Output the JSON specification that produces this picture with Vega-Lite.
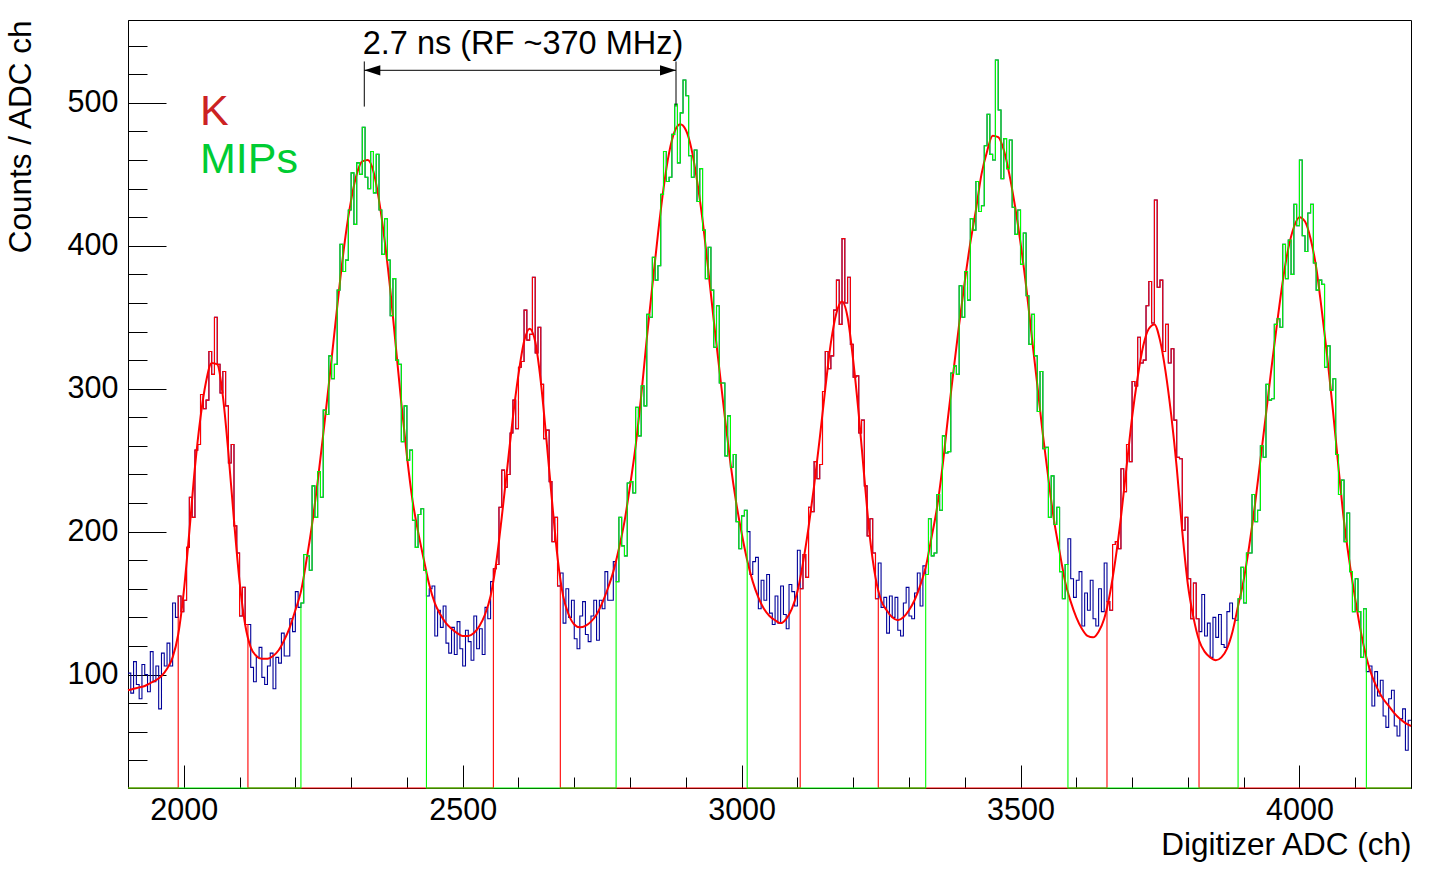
{
  "$schema": "https://vega.github.io/schema/vega-lite/v6.json",
  "width": 1283,
  "height": 768,
  "autosize": {"type": "none"},
  "padding": {"left": 128, "top": 20, "right": 18, "bottom": 85},
  "background": "white",
  "data": {"values": [{}]},
  "datasets": {
    "hist": [
      {"x":1900,"h":101,"k":0,"m":0},{"x":1905,"h":87,"k":0,"m":0},{"x":1910,"h":109,"k":0,"m":0},{"x":1915,"h":93,"k":0,"m":0},{"x":1920,"h":83,"k":0,"m":0},{"x":1925,"h":107,"k":0,"m":0},{"x":1930,"h":100,"k":0,"m":0},{"x":1935,"h":88,"k":0,"m":0},{"x":1940,"h":116,"k":0,"m":0},{"x":1945,"h":95,"k":0,"m":0},{"x":1950,"h":106,"k":0,"m":0},{"x":1955,"h":76,"k":0,"m":0},{"x":1960,"h":115,"k":0,"m":0},{"x":1965,"h":106,"k":0,"m":0},{"x":1970,"h":122,"k":0,"m":0},{"x":1975,"h":106,"k":0,"m":0},{"x":1980,"h":150,"k":0,"m":0},{"x":1985,"h":140,"k":0,"m":0},
      {"x":1990,"h":155,"k":155,"m":0},{"x":1995,"h":144,"k":144,"m":0},{"x":2000,"h":152,"k":152,"m":0},{"x":2005,"h":189,"k":189,"m":0},{"x":2010,"h":224,"k":224,"m":0},{"x":2015,"h":210,"k":210,"m":0},{"x":2020,"h":257,"k":257,"m":0},{"x":2025,"h":261,"k":261,"m":0},{"x":2030,"h":296,"k":296,"m":0},{"x":2035,"h":286,"k":286,"m":0},{"x":2040,"h":292,"k":292,"m":0},{"x":2045,"h":326,"k":326,"m":0},{"x":2050,"h":310,"k":310,"m":0},{"x":2055,"h":350,"k":350,"m":0},{"x":2060,"h":317,"k":317,"m":0},{"x":2065,"h":297,"k":297,"m":0},{"x":2070,"h":312,"k":312,"m":0},{"x":2075,"h":288,"k":288,"m":0},{"x":2080,"h":248,"k":248,"m":0},{"x":2085,"h":261,"k":261,"m":0},{"x":2090,"h":204,"k":204,"m":0},{"x":2095,"h":185,"k":185,"m":0},{"x":2100,"h":141,"k":141,"m":0},{"x":2105,"h":161,"k":161,"m":0},{"x":2110,"h":135,"k":135,"m":0},
      {"x":2115,"h":135,"k":0,"m":0},{"x":2120,"h":105,"k":0,"m":0},{"x":2125,"h":95,"k":0,"m":0},{"x":2130,"h":112,"k":0,"m":0},{"x":2135,"h":119,"k":0,"m":0},{"x":2140,"h":98,"k":0,"m":0},{"x":2145,"h":93,"k":0,"m":0},{"x":2150,"h":106,"k":0,"m":0},{"x":2155,"h":115,"k":0,"m":0},{"x":2160,"h":90,"k":0,"m":0},{"x":2165,"h":112,"k":0,"m":0},{"x":2170,"h":108,"k":0,"m":0},{"x":2175,"h":129,"k":0,"m":0},{"x":2180,"h":113,"k":0,"m":0},{"x":2185,"h":113,"k":0,"m":0},{"x":2190,"h":139,"k":0,"m":0},{"x":2195,"h":130,"k":0,"m":0},{"x":2200,"h":158,"k":0,"m":0},{"x":2205,"h":147,"k":0,"m":0},
      {"x":2210,"h":150,"k":0,"m":150},{"x":2215,"h":184,"k":0,"m":184},{"x":2220,"h":183,"k":0,"m":183},{"x":2225,"h":173,"k":0,"m":173},{"x":2230,"h":232,"k":0,"m":232},{"x":2235,"h":210,"k":0,"m":210},{"x":2240,"h":242,"k":0,"m":242},{"x":2245,"h":224,"k":0,"m":224},{"x":2250,"h":285,"k":0,"m":285},{"x":2255,"h":282,"k":0,"m":282},{"x":2260,"h":323,"k":0,"m":323},{"x":2265,"h":307,"k":0,"m":307},{"x":2270,"h":317,"k":0,"m":317},{"x":2275,"h":369,"k":0,"m":369},{"x":2280,"h":401,"k":0,"m":401},{"x":2285,"h":382,"k":0,"m":382},{"x":2290,"h":390,"k":0,"m":390},{"x":2295,"h":425,"k":0,"m":425},{"x":2300,"h":451,"k":0,"m":451},{"x":2305,"h":415,"k":0,"m":415},{"x":2310,"h":458,"k":0,"m":458},{"x":2315,"h":450,"k":0,"m":450},{"x":2320,"h":483,"k":0,"m":483},{"x":2325,"h":448,"k":0,"m":448},{"x":2330,"h":440,"k":0,"m":440},{"x":2335,"h":466,"k":0,"m":466},{"x":2340,"h":437,"k":0,"m":437},{"x":2345,"h":464,"k":0,"m":464},{"x":2350,"h":425,"k":0,"m":425},{"x":2355,"h":394,"k":0,"m":394},{"x":2360,"h":419,"k":0,"m":419},{"x":2365,"h":390,"k":0,"m":390},{"x":2370,"h":351,"k":0,"m":351},{"x":2375,"h":377,"k":0,"m":377},{"x":2380,"h":320,"k":0,"m":320},{"x":2385,"h":317,"k":0,"m":317},{"x":2390,"h":263,"k":0,"m":263},{"x":2395,"h":288,"k":0,"m":288},{"x":2400,"h":250,"k":0,"m":250},{"x":2405,"h":257,"k":0,"m":257},{"x":2410,"h":208,"k":0,"m":208},{"x":2415,"h":189,"k":0,"m":189},{"x":2420,"h":212,"k":0,"m":212},{"x":2425,"h":216,"k":0,"m":216},{"x":2430,"h":173,"k":0,"m":173},
      {"x":2435,"h":155,"k":0,"m":0},{"x":2440,"h":160,"k":0,"m":0},{"x":2445,"h":162,"k":0,"m":0},{"x":2450,"h":127,"k":0,"m":0},{"x":2455,"h":145,"k":0,"m":0},{"x":2460,"h":133,"k":0,"m":0},{"x":2465,"h":148,"k":0,"m":0},{"x":2470,"h":122,"k":0,"m":0},{"x":2475,"h":115,"k":0,"m":0},{"x":2480,"h":133,"k":0,"m":0},{"x":2485,"h":114,"k":0,"m":0},{"x":2490,"h":137,"k":0,"m":0},{"x":2495,"h":118,"k":0,"m":0},{"x":2500,"h":106,"k":0,"m":0},{"x":2505,"h":131,"k":0,"m":0},{"x":2510,"h":123,"k":0,"m":0},{"x":2515,"h":110,"k":0,"m":0},{"x":2520,"h":141,"k":0,"m":0},{"x":2525,"h":118,"k":0,"m":0},{"x":2530,"h":132,"k":0,"m":0},{"x":2535,"h":114,"k":0,"m":0},{"x":2540,"h":147,"k":0,"m":0},{"x":2545,"h":139,"k":0,"m":0},{"x":2550,"h":165,"k":0,"m":0},
      {"x":2555,"h":174,"k":174,"m":0},{"x":2560,"h":177,"k":177,"m":0},{"x":2565,"h":217,"k":217,"m":0},{"x":2570,"h":243,"k":243,"m":0},{"x":2575,"h":231,"k":231,"m":0},{"x":2580,"h":240,"k":240,"m":0},{"x":2585,"h":269,"k":269,"m":0},{"x":2590,"h":292,"k":292,"m":0},{"x":2595,"h":272,"k":272,"m":0},{"x":2600,"h":315,"k":315,"m":0},{"x":2605,"h":319,"k":319,"m":0},{"x":2610,"h":355,"k":355,"m":0},{"x":2615,"h":334,"k":334,"m":0},{"x":2620,"h":338,"k":338,"m":0},{"x":2625,"h":378,"k":378,"m":0},{"x":2630,"h":325,"k":325,"m":0},{"x":2635,"h":343,"k":343,"m":0},{"x":2640,"h":303,"k":303,"m":0},{"x":2645,"h":265,"k":265,"m":0},{"x":2650,"h":271,"k":271,"m":0},{"x":2655,"h":235,"k":235,"m":0},{"x":2660,"h":193,"k":193,"m":0},{"x":2665,"h":210,"k":210,"m":0},{"x":2670,"h":162,"k":162,"m":0},
      {"x":2675,"h":171,"k":0,"m":0},{"x":2680,"h":136,"k":0,"m":0},{"x":2685,"h":160,"k":0,"m":0},{"x":2690,"h":140,"k":0,"m":0},{"x":2695,"h":152,"k":0,"m":0},{"x":2700,"h":125,"k":0,"m":0},{"x":2705,"h":118,"k":0,"m":0},{"x":2710,"h":141,"k":0,"m":0},{"x":2715,"h":151,"k":0,"m":0},{"x":2720,"h":128,"k":0,"m":0},{"x":2725,"h":123,"k":0,"m":0},{"x":2730,"h":141,"k":0,"m":0},{"x":2735,"h":152,"k":0,"m":0},{"x":2740,"h":124,"k":0,"m":0},{"x":2745,"h":152,"k":0,"m":0},{"x":2750,"h":146,"k":0,"m":0},{"x":2755,"h":172,"k":0,"m":0},{"x":2760,"h":152,"k":0,"m":0},{"x":2765,"h":152,"k":0,"m":0},{"x":2770,"h":179,"k":0,"m":0},
      {"x":2775,"h":165,"k":0,"m":165},{"x":2780,"h":210,"k":0,"m":210},{"x":2785,"h":190,"k":0,"m":190},{"x":2790,"h":183,"k":0,"m":183},{"x":2795,"h":234,"k":0,"m":234},{"x":2800,"h":235,"k":0,"m":235},{"x":2805,"h":227,"k":0,"m":227},{"x":2810,"h":287,"k":0,"m":287},{"x":2815,"h":267,"k":0,"m":267},{"x":2820,"h":302,"k":0,"m":302},{"x":2825,"h":288,"k":0,"m":288},{"x":2830,"h":352,"k":0,"m":352},{"x":2835,"h":350,"k":0,"m":350},{"x":2840,"h":392,"k":0,"m":392},{"x":2845,"h":376,"k":0,"m":376},{"x":2850,"h":386,"k":0,"m":386},{"x":2855,"h":436,"k":0,"m":436},{"x":2860,"h":466,"k":0,"m":466},{"x":2865,"h":445,"k":0,"m":445},{"x":2870,"h":448,"k":0,"m":448},{"x":2875,"h":478,"k":0,"m":478},{"x":2880,"h":499,"k":0,"m":499},{"x":2885,"h":458,"k":0,"m":458},{"x":2890,"h":493,"k":0,"m":493},{"x":2895,"h":516,"k":0,"m":516},{"x":2900,"h":505,"k":0,"m":505},{"x":2905,"h":463,"k":0,"m":463},{"x":2910,"h":448,"k":0,"m":448},{"x":2915,"h":467,"k":0,"m":467},{"x":2920,"h":431,"k":0,"m":431},{"x":2925,"h":454,"k":0,"m":454},{"x":2930,"h":411,"k":0,"m":411},{"x":2935,"h":377,"k":0,"m":377},{"x":2940,"h":399,"k":0,"m":399},{"x":2945,"h":369,"k":0,"m":369},{"x":2950,"h":329,"k":0,"m":329},{"x":2955,"h":358,"k":0,"m":358},{"x":2960,"h":304,"k":0,"m":304},{"x":2965,"h":304,"k":0,"m":304},{"x":2970,"h":253,"k":0,"m":253},{"x":2975,"h":281,"k":0,"m":281},{"x":2980,"h":245,"k":0,"m":245},{"x":2985,"h":254,"k":0,"m":254},{"x":2990,"h":207,"k":0,"m":207},{"x":2995,"h":188,"k":0,"m":188},{"x":3000,"h":211,"k":0,"m":211},{"x":3005,"h":215,"k":0,"m":215},
      {"x":3010,"h":200,"k":0,"m":0},{"x":3015,"h":170,"k":0,"m":0},{"x":3020,"h":179,"k":0,"m":0},{"x":3025,"h":182,"k":0,"m":0},{"x":3030,"h":146,"k":0,"m":0},{"x":3035,"h":166,"k":0,"m":0},{"x":3040,"h":152,"k":0,"m":0},{"x":3045,"h":170,"k":0,"m":0},{"x":3050,"h":143,"k":0,"m":0},{"x":3055,"h":135,"k":0,"m":0},{"x":3060,"h":155,"k":0,"m":0},{"x":3065,"h":136,"k":0,"m":0},{"x":3070,"h":162,"k":0,"m":0},{"x":3075,"h":142,"k":0,"m":0},{"x":3080,"h":132,"k":0,"m":0},{"x":3085,"h":163,"k":0,"m":0},{"x":3090,"h":158,"k":0,"m":0},{"x":3095,"h":148,"k":0,"m":0},{"x":3100,"h":187,"k":0,"m":0},
      {"x":3105,"h":160,"k":160,"m":0},{"x":3110,"h":184,"k":184,"m":0},{"x":3115,"h":168,"k":168,"m":0},{"x":3120,"h":217,"k":217,"m":0},{"x":3125,"h":214,"k":214,"m":0},{"x":3130,"h":249,"k":249,"m":0},{"x":3135,"h":237,"k":237,"m":0},{"x":3140,"h":247,"k":247,"m":0},{"x":3145,"h":298,"k":298,"m":0},{"x":3150,"h":326,"k":326,"m":0},{"x":3155,"h":314,"k":314,"m":0},{"x":3160,"h":323,"k":323,"m":0},{"x":3165,"h":355,"k":355,"m":0},{"x":3170,"h":376,"k":376,"m":0},{"x":3175,"h":345,"k":345,"m":0},{"x":3180,"h":405,"k":405,"m":0},{"x":3185,"h":360,"k":360,"m":0},{"x":3190,"h":378,"k":378,"m":0},{"x":3195,"h":331,"k":331,"m":0},{"x":3200,"h":308,"k":308,"m":0},{"x":3205,"h":309,"k":309,"m":0},{"x":3210,"h":269,"k":269,"m":0},{"x":3215,"h":278,"k":278,"m":0},{"x":3220,"h":232,"k":232,"m":0},{"x":3225,"h":197,"k":197,"m":0},{"x":3230,"h":209,"k":209,"m":0},{"x":3235,"h":185,"k":185,"m":0},{"x":3240,"h":153,"k":153,"m":0},
      {"x":3245,"h":178,"k":0,"m":0},{"x":3250,"h":147,"k":0,"m":0},{"x":3255,"h":154,"k":0,"m":0},{"x":3260,"h":129,"k":0,"m":0},{"x":3265,"h":155,"k":0,"m":0},{"x":3270,"h":140,"k":0,"m":0},{"x":3275,"h":154,"k":0,"m":0},{"x":3280,"h":131,"k":0,"m":0},{"x":3285,"h":127,"k":0,"m":0},{"x":3290,"h":150,"k":0,"m":0},{"x":3295,"h":161,"k":0,"m":0},{"x":3300,"h":141,"k":0,"m":0},{"x":3305,"h":139,"k":0,"m":0},{"x":3310,"h":157,"k":0,"m":0},{"x":3315,"h":171,"k":0,"m":0},{"x":3320,"h":148,"k":0,"m":0},{"x":3325,"h":176,"k":0,"m":0},
      {"x":3330,"h":170,"k":0,"m":170},{"x":3335,"h":209,"k":0,"m":209},{"x":3340,"h":183,"k":0,"m":183},{"x":3345,"h":185,"k":0,"m":185},{"x":3350,"h":226,"k":0,"m":226},{"x":3355,"h":215,"k":0,"m":215},{"x":3360,"h":267,"k":0,"m":267},{"x":3365,"h":255,"k":0,"m":255},{"x":3370,"h":256,"k":0,"m":256},{"x":3375,"h":311,"k":0,"m":311},{"x":3380,"h":316,"k":0,"m":316},{"x":3385,"h":310,"k":0,"m":310},{"x":3390,"h":372,"k":0,"m":372},{"x":3395,"h":350,"k":0,"m":350},{"x":3400,"h":382,"k":0,"m":382},{"x":3405,"h":362,"k":0,"m":362},{"x":3410,"h":419,"k":0,"m":419},{"x":3415,"h":411,"k":0,"m":411},{"x":3420,"h":445,"k":0,"m":445},{"x":3425,"h":424,"k":0,"m":424},{"x":3430,"h":428,"k":0,"m":428},{"x":3435,"h":470,"k":0,"m":470},{"x":3440,"h":492,"k":0,"m":492},{"x":3445,"h":464,"k":0,"m":464},{"x":3450,"h":460,"k":0,"m":460},{"x":3455,"h":530,"k":0,"m":530},{"x":3460,"h":495,"k":0,"m":495},{"x":3465,"h":447,"k":0,"m":447},{"x":3470,"h":475,"k":0,"m":475},{"x":3475,"h":454,"k":0,"m":454},{"x":3480,"h":474,"k":0,"m":474},{"x":3485,"h":427,"k":0,"m":427},{"x":3490,"h":408,"k":0,"m":408},{"x":3495,"h":425,"k":0,"m":425},{"x":3500,"h":387,"k":0,"m":387},{"x":3505,"h":409,"k":0,"m":409},{"x":3510,"h":365,"k":0,"m":365},{"x":3515,"h":331,"k":0,"m":331},{"x":3520,"h":352,"k":0,"m":352},{"x":3525,"h":323,"k":0,"m":323},{"x":3530,"h":284,"k":0,"m":284},{"x":3535,"h":312,"k":0,"m":312},{"x":3540,"h":258,"k":0,"m":258},{"x":3545,"h":259,"k":0,"m":259},{"x":3550,"h":210,"k":0,"m":210},{"x":3555,"h":239,"k":0,"m":239},{"x":3560,"h":205,"k":0,"m":205},{"x":3565,"h":217,"k":0,"m":217},{"x":3570,"h":172,"k":0,"m":172},{"x":3575,"h":153,"k":0,"m":153},{"x":3580,"h":177,"k":0,"m":177},
      {"x":3585,"h":195,"k":0,"m":0},{"x":3590,"h":167,"k":0,"m":0},{"x":3595,"h":154,"k":0,"m":0},{"x":3600,"h":166,"k":0,"m":0},{"x":3605,"h":172,"k":0,"m":0},{"x":3610,"h":134,"k":0,"m":0},{"x":3615,"h":157,"k":0,"m":0},{"x":3620,"h":145,"k":0,"m":0},{"x":3625,"h":166,"k":0,"m":0},{"x":3630,"h":139,"k":0,"m":0},{"x":3635,"h":134,"k":0,"m":0},{"x":3640,"h":160,"k":0,"m":0},{"x":3645,"h":144,"k":0,"m":0},{"x":3650,"h":178,"k":0,"m":0},
      {"x":3655,"h":151,"k":151,"m":0},{"x":3660,"h":145,"k":145,"m":0},{"x":3665,"h":191,"k":191,"m":0},{"x":3670,"h":193,"k":193,"m":0},{"x":3675,"h":188,"k":188,"m":0},{"x":3680,"h":244,"k":244,"m":0},{"x":3685,"h":228,"k":228,"m":0},{"x":3690,"h":261,"k":261,"m":0},{"x":3695,"h":249,"k":249,"m":0},{"x":3700,"h":305,"k":305,"m":0},{"x":3705,"h":302,"k":302,"m":0},{"x":3710,"h":336,"k":336,"m":0},{"x":3715,"h":318,"k":318,"m":0},{"x":3720,"h":320,"k":320,"m":0},{"x":3725,"h":358,"k":358,"m":0},{"x":3730,"h":375,"k":375,"m":0},{"x":3735,"h":346,"k":346,"m":0},{"x":3740,"h":432,"k":432,"m":0},{"x":3745,"h":371,"k":371,"m":0},{"x":3750,"h":376,"k":376,"m":0},{"x":3755,"h":326,"k":326,"m":0},{"x":3760,"h":345,"k":345,"m":0},{"x":3765,"h":318,"k":318,"m":0},{"x":3770,"h":328,"k":328,"m":0},{"x":3775,"h":278,"k":278,"m":0},{"x":3780,"h":252,"k":252,"m":0},{"x":3785,"h":251,"k":251,"m":0},{"x":3790,"h":201,"k":201,"m":0},{"x":3795,"h":210,"k":210,"m":0},{"x":3800,"h":167,"k":167,"m":0},{"x":3805,"h":139,"k":139,"m":0},{"x":3810,"h":164,"k":164,"m":0},{"x":3815,"h":139,"k":139,"m":0},
      {"x":3820,"h":130,"k":0,"m":0},{"x":3825,"h":156,"k":0,"m":0},{"x":3830,"h":127,"k":0,"m":0},{"x":3835,"h":136,"k":0,"m":0},{"x":3840,"h":112,"k":0,"m":0},{"x":3845,"h":140,"k":0,"m":0},{"x":3850,"h":126,"k":0,"m":0},{"x":3855,"h":142,"k":0,"m":0},{"x":3860,"h":121,"k":0,"m":0},{"x":3865,"h":119,"k":0,"m":0},{"x":3870,"h":144,"k":0,"m":0},{"x":3875,"h":150,"k":0,"m":0},{"x":3880,"h":139,"k":0,"m":0},{"x":3885,"h":138,"k":0,"m":0},
      {"x":3890,"h":153,"k":0,"m":153},{"x":3895,"h":175,"k":0,"m":175},{"x":3900,"h":150,"k":0,"m":150},{"x":3905,"h":185,"k":0,"m":185},{"x":3910,"h":185,"k":0,"m":185},{"x":3915,"h":226,"k":0,"m":226},{"x":3920,"h":207,"k":0,"m":207},{"x":3925,"h":215,"k":0,"m":215},{"x":3930,"h":260,"k":0,"m":260},{"x":3935,"h":252,"k":0,"m":252},{"x":3940,"h":303,"k":0,"m":303},{"x":3945,"h":292,"k":0,"m":292},{"x":3950,"h":293,"k":0,"m":293},{"x":3955,"h":345,"k":0,"m":345},{"x":3960,"h":349,"k":0,"m":349},{"x":3965,"h":343,"k":0,"m":343},{"x":3970,"h":401,"k":0,"m":401},{"x":3975,"h":377,"k":0,"m":377},{"x":3980,"h":404,"k":0,"m":404},{"x":3985,"h":380,"k":0,"m":380},{"x":3990,"h":429,"k":0,"m":429},{"x":3995,"h":414,"k":0,"m":414},{"x":4000,"h":460,"k":0,"m":460},{"x":4005,"h":407,"k":0,"m":407},{"x":4010,"h":396,"k":0,"m":396},{"x":4015,"h":423,"k":0,"m":423},{"x":4020,"h":429,"k":0,"m":429},{"x":4025,"h":388,"k":0,"m":388},{"x":4030,"h":369,"k":0,"m":369},{"x":4035,"h":376,"k":0,"m":376},{"x":4040,"h":373,"k":0,"m":373},{"x":4045,"h":315,"k":0,"m":315},{"x":4050,"h":330,"k":0,"m":330},{"x":4055,"h":299,"k":0,"m":299},{"x":4060,"h":307,"k":0,"m":307},{"x":4065,"h":254,"k":0,"m":254},{"x":4070,"h":226,"k":0,"m":226},{"x":4075,"h":236,"k":0,"m":236},{"x":4080,"h":193,"k":0,"m":193},{"x":4085,"h":213,"k":0,"m":213},{"x":4090,"h":172,"k":0,"m":172},{"x":4095,"h":144,"k":0,"m":144},{"x":4100,"h":167,"k":0,"m":167},{"x":4105,"h":144,"k":0,"m":144},{"x":4110,"h":112,"k":0,"m":112},{"x":4115,"h":146,"k":0,"m":146},
      {"x":4120,"h":102,"k":0,"m":0},{"x":4125,"h":106,"k":0,"m":0},{"x":4130,"h":78,"k":0,"m":0},{"x":4135,"h":102,"k":0,"m":0},{"x":4140,"h":85,"k":0,"m":0},{"x":4145,"h":96,"k":0,"m":0},{"x":4150,"h":71,"k":0,"m":0},{"x":4155,"h":63,"k":0,"m":0},{"x":4160,"h":83,"k":0,"m":0},{"x":4165,"h":89,"k":0,"m":0},{"x":4170,"h":64,"k":0,"m":0},{"x":4175,"h":57,"k":0,"m":0},{"x":4180,"h":69,"k":0,"m":0},{"x":4185,"h":76,"k":0,"m":0},{"x":4190,"h":47,"k":0,"m":0},{"x":4195,"h":68,"k":0,"m":0},{"x":4200,"h":68,"k":0,"m":0}
    ],
    "fit": [
      {"x":1900,"f":89},{"x":1910,"f":90},{"x":1920,"f":91},{"x":1930,"f":92},{"x":1940,"f":94},{"x":1950,"f":96},{"x":1960,"f":99},{"x":1970,"f":104},{"x":1980,"f":112},{"x":1990,"f":128},{"x":2000,"f":158},{"x":2010,"f":200},{"x":2020,"f":245},{"x":2030,"f":280},{"x":2040,"f":305},{"x":2050,"f":318},{"x":2060,"f":317},{"x":2070,"f":295},{"x":2080,"f":255},{"x":2090,"f":208},{"x":2100,"f":165},{"x":2110,"f":135},{"x":2120,"f":119},{"x":2130,"f":113},{"x":2140,"f":111},{"x":2150,"f":111},{"x":2160,"f":113},{"x":2170,"f":117},{"x":2180,"f":124},{"x":2190,"f":133},{"x":2200,"f":145},
      {"x":2210,"f":158},{"x":2220,"f":180},{"x":2230,"f":205},{"x":2240,"f":235},{"x":2250,"f":268},{"x":2260,"f":303},{"x":2270,"f":339},{"x":2280,"f":375},{"x":2290,"f":407},{"x":2300,"f":432},{"x":2310,"f":450},{"x":2320,"f":459},{"x":2330,"f":460},{"x":2340,"f":452},{"x":2350,"f":432},{"x":2360,"f":404},{"x":2370,"f":370},{"x":2380,"f":330},{"x":2390,"f":290},{"x":2400,"f":253},{"x":2410,"f":222},{"x":2420,"f":200},{"x":2430,"f":181},{"x":2440,"f":163},{"x":2450,"f":150},{"x":2460,"f":142},{"x":2470,"f":136},{"x":2480,"f":132},{"x":2490,"f":129},{"x":2500,"f":127},
      {"x":2510,"f":127},{"x":2520,"f":129},{"x":2530,"f":134},{"x":2540,"f":142},{"x":2550,"f":155},{"x":2560,"f":178},{"x":2570,"f":210},{"x":2580,"f":245},{"x":2590,"f":280},{"x":2600,"f":310},{"x":2610,"f":333},{"x":2620,"f":342},{"x":2630,"f":333},{"x":2640,"f":305},{"x":2650,"f":265},{"x":2660,"f":222},{"x":2670,"f":182},{"x":2680,"f":155},{"x":2690,"f":142},{"x":2700,"f":135},{"x":2710,"f":133},{"x":2720,"f":134},{"x":2730,"f":137},{"x":2740,"f":142},{"x":2750,"f":150},{"x":2760,"f":160},{"x":2770,"f":172},{"x":2780,"f":188},{"x":2790,"f":207},{"x":2800,"f":232},
      {"x":2810,"f":260},{"x":2820,"f":295},{"x":2830,"f":335},{"x":2840,"f":372},{"x":2850,"f":408},{"x":2860,"f":440},{"x":2870,"f":465},{"x":2880,"f":480},{"x":2890,"f":485},{"x":2900,"f":481},{"x":2910,"f":468},{"x":2920,"f":446},{"x":2930,"f":418},{"x":2940,"f":384},{"x":2950,"f":348},{"x":2960,"f":314},{"x":2970,"f":280},{"x":2980,"f":248},{"x":2990,"f":221},{"x":3000,"f":199},{"x":3010,"f":180},{"x":3020,"f":165},{"x":3030,"f":154},{"x":3040,"f":146},{"x":3050,"f":141},{"x":3060,"f":138},{"x":3070,"f":136},{"x":3080,"f":139},{"x":3090,"f":146},{"x":3100,"f":158},
      {"x":3110,"f":178},{"x":3120,"f":203},{"x":3130,"f":232},{"x":3140,"f":265},{"x":3150,"f":300},{"x":3160,"f":332},{"x":3170,"f":353},{"x":3180,"f":361},{"x":3190,"f":350},{"x":3200,"f":320},{"x":3210,"f":282},{"x":3220,"f":238},{"x":3230,"f":196},{"x":3240,"f":168},{"x":3250,"f":152},{"x":3260,"f":145},{"x":3270,"f":140},{"x":3280,"f":138},{"x":3290,"f":140},{"x":3300,"f":145},{"x":3310,"f":152},{"x":3320,"f":162},{"x":3330,"f":175},{"x":3340,"f":195},{"x":3350,"f":216},{"x":3360,"f":245},{"x":3370,"f":280},{"x":3380,"f":313},{"x":3390,"f":345},{"x":3400,"f":375},
      {"x":3410,"f":402},{"x":3420,"f":425},{"x":3430,"f":450},{"x":3440,"f":466},{"x":3450,"f":477},{"x":3460,"f":476},{"x":3470,"f":467},{"x":3480,"f":450},{"x":3490,"f":428},{"x":3500,"f":402},{"x":3510,"f":372},{"x":3520,"f":337},{"x":3530,"f":303},{"x":3540,"f":268},{"x":3550,"f":237},{"x":3560,"f":208},{"x":3570,"f":186},{"x":3580,"f":165},{"x":3590,"f":151},{"x":3600,"f":140},{"x":3610,"f":132},{"x":3620,"f":127},{"x":3630,"f":126},{"x":3640,"f":130},{"x":3650,"f":139},{"x":3660,"f":156},{"x":3670,"f":180},{"x":3680,"f":210},{"x":3690,"f":245},{"x":3700,"f":280},
      {"x":3710,"f":308},{"x":3720,"f":330},{"x":3730,"f":342},{"x":3740,"f":345},{"x":3750,"f":334},{"x":3760,"f":312},{"x":3770,"f":282},{"x":3780,"f":245},{"x":3790,"f":200},{"x":3800,"f":163},{"x":3810,"f":140},{"x":3820,"f":124},{"x":3830,"f":116},{"x":3840,"f":112},{"x":3850,"f":110},{"x":3860,"f":112},{"x":3870,"f":118},{"x":3880,"f":130},{"x":3890,"f":148},{"x":3900,"f":166},{"x":3910,"f":190},{"x":3920,"f":218},{"x":3930,"f":250},{"x":3940,"f":282},{"x":3950,"f":315},{"x":3960,"f":346},{"x":3970,"f":375},{"x":3980,"f":398},{"x":3990,"f":413},{"x":4000,"f":420},
      {"x":4010,"f":417},{"x":4020,"f":405},{"x":4030,"f":385},{"x":4040,"f":355},{"x":4050,"f":322},{"x":4060,"f":285},{"x":4070,"f":245},{"x":4080,"f":207},{"x":4090,"f":178},{"x":4100,"f":153},{"x":4110,"f":130},{"x":4120,"f":112},{"x":4130,"f":99},{"x":4140,"f":90},{"x":4150,"f":83},{"x":4160,"f":78},{"x":4170,"f":73},{"x":4180,"f":69},{"x":4190,"f":66},{"x":4200,"f":64}
    ]
  },
  "layer": [
    {
      "data": {"name": "hist"},
      "mark": {"type": "line", "interpolate": "step-after", "color": "#000099", "strokeWidth": 1.1},
      "encoding": {
        "x": {
          "field": "x", "type": "quantitative",
          "scale": {"domain": [1900, 4200], "nice": false, "zero": false},
          "axis": {
            "title": "Digitizer ADC (ch)",
            "titleAnchor": "end",
            "titleFontSize": 31.5, "titleFontWeight": "normal", "titleColor": "#000", "titlePadding": 4,
            "values": [2000, 2100, 2200, 2300, 2400, 2500, 2600, 2700, 2800, 2900, 3000, 3100, 3200, 3300, 3400, 3500, 3600, 3700, 3800, 3900, 4000, 4100],
            "tickCount": 100,
            "format": "d",
            "labelExpr": "datum.value % 500 === 0 ? datum.label : ''",
            "labelFontSize": 30.5, "labelColor": "#000", "labelPadding": 7, "labelOverlap": false, "labelFlush": false,
            "ticks": false,
            "grid": true, "gridColor": "#000", "gridOpacity": 1, "gridWidth": 1,
            "gridDash": {"condition": {"test": "datum.value % 500 === 0", "value": [0, 745, 23, 3000]}, "value": [0, 757, 11, 3000]},
            "domainColor": "#000", "domainWidth": 1
          }
        },
        "y": {
          "field": "h", "type": "quantitative",
          "scale": {"domain": [20.6, 558], "nice": false, "zero": false, "clamp": true},
          "axis": {
            "title": "Counts / ADC ch",
            "titleAnchor": "end",
            "titleFontSize": 31.5, "titleFontWeight": "normal", "titleColor": "#000", "titlePadding": 30,
            "values": [40, 60, 80, 100, 120, 140, 160, 180, 200, 220, 240, 260, 280, 300, 320, 340, 360, 380, 400, 420, 440, 460, 480, 500, 520, 540],
            "tickCount": 100,
            "labelExpr": "datum.value % 100 === 0 ? datum.label : ''",
            "labelFontSize": 30.5, "labelColor": "#000", "labelPadding": 10, "labelOverlap": false, "labelFlush": false,
            "ticks": false,
            "grid": true, "gridColor": "#000", "gridOpacity": 1, "gridWidth": 1,
            "gridDash": {"condition": {"test": "datum.value % 100 === 0", "value": [38, 3000]}, "value": [19, 3000]},
            "domainColor": "#000", "domainWidth": 1
          }
        }
      }
    },
    {
      "data": {"name": "hist"},
      "mark": {"type": "line", "interpolate": "step-after", "color": "#ff0000", "strokeWidth": 1.1},
      "encoding": {
        "x": {"field": "x", "type": "quantitative"},
        "y": {"field": "k", "type": "quantitative"}
      }
    },
    {
      "data": {"name": "fit"},
      "mark": {"type": "line", "interpolate": "monotone", "color": "#ff0000", "strokeWidth": 2},
      "encoding": {
        "x": {"field": "x", "type": "quantitative"},
        "y": {"field": "f", "type": "quantitative"}
      }
    },
    {
      "data": {"name": "hist"},
      "mark": {"type": "line", "interpolate": "step-after", "color": "#00ff00", "strokeWidth": 1.1},
      "encoding": {
        "x": {"field": "x", "type": "quantitative"},
        "y": {"field": "m", "type": "quantitative"}
      }
    },
    {
      "mark": {"type": "rule", "color": "#000", "strokeWidth": 1},
      "encoding": {
        "x": {"datum": 2323.6, "type": "quantitative"},
        "x2": {"datum": 2882.4},
        "y": {"datum": 522.8, "type": "quantitative"}
      }
    },
    {
      "mark": {"type": "rule", "color": "#000", "strokeWidth": 1},
      "encoding": {
        "x": {"datum": 2323.6, "type": "quantitative"},
        "y": {"datum": 497.4, "type": "quantitative"},
        "y2": {"datum": 529}
      }
    },
    {
      "mark": {"type": "rule", "color": "#000", "strokeWidth": 1},
      "encoding": {
        "x": {"datum": 2882.4, "type": "quantitative"},
        "y": {"datum": 497.4, "type": "quantitative"},
        "y2": {"datum": 529}
      }
    },
    {
      "mark": {"type": "point", "shape": "M0,0L1,-0.32L1,0.32Z", "size": 1024, "filled": true, "color": "#000", "opacity": 1, "strokeWidth": 0},
      "encoding": {
        "x": {"datum": 2323.6, "type": "quantitative"},
        "y": {"datum": 522.8, "type": "quantitative"}
      }
    },
    {
      "mark": {"type": "point", "shape": "M0,0L-1,-0.32L-1,0.32Z", "size": 1024, "filled": true, "color": "#000", "opacity": 1, "strokeWidth": 0},
      "encoding": {
        "x": {"datum": 2882.4, "type": "quantitative"},
        "y": {"datum": 522.8, "type": "quantitative"}
      }
    },
    {
      "mark": {"type": "text", "text": "2.7 ns (RF ~370 MHz)", "align": "left", "baseline": "alphabetic", "fontSize": 32.5, "font": "Liberation Sans", "color": "#000"},
      "encoding": {
        "x": {"datum": 2320.8, "type": "quantitative"},
        "y": {"datum": 534.5, "type": "quantitative"}
      }
    },
    {
      "mark": {"type": "text", "text": "K", "align": "left", "baseline": "alphabetic", "fontSize": 43, "font": "Liberation Sans", "color": "#cc2222"},
      "encoding": {
        "x": {"datum": 2029, "type": "quantitative"},
        "y": {"datum": 484.8, "type": "quantitative"}
      }
    },
    {
      "mark": {"type": "text", "text": "MIPs", "align": "left", "baseline": "alphabetic", "fontSize": 43, "font": "Liberation Sans", "color": "#00cc33"},
      "encoding": {
        "x": {"datum": 2029, "type": "quantitative"},
        "y": {"datum": 451.2, "type": "quantitative"}
      }
    }
  ],
  "config": {
    "font": "Liberation Sans",
    "view": {"stroke": "#000", "strokeWidth": 1},
    "axis": {"labelFont": "Liberation Sans", "titleFont": "Liberation Sans"}
  }
}
